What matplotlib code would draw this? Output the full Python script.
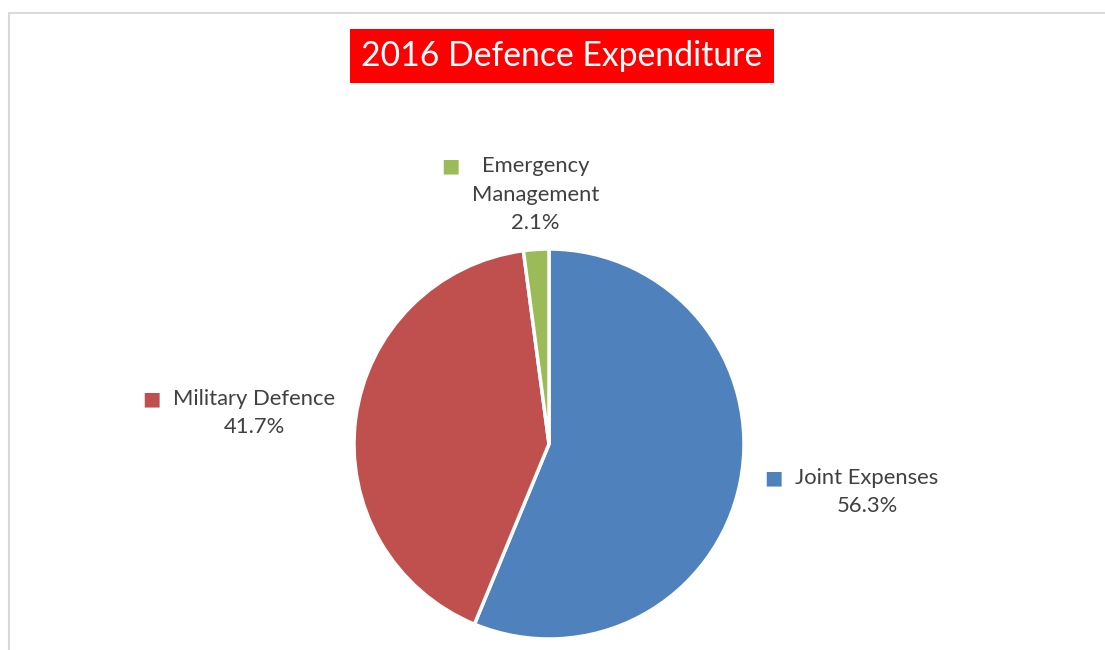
import matplotlib
matplotlib.use("Agg")
import matplotlib.pyplot as plt
from matplotlib.patches import Rectangle

# data
categories = ["Joint Expenses", "Military Defence", "Emergency\nManagement"]
shares = [56.3, 41.7, 2.1]
colours = ["#4F81BD", "#C0504D", "#9BBB59"]
title = "2016 Defence Expenditure"

plt.rcParams["font.family"] = ["Lato", "DejaVu Sans"]
txt_col = "#404040"

fig = plt.figure(figsize=(11.05, 6.5), dpi=100)
W, H = 1105, 650

# pie centre (549, 444) px, radius 195 px
ax = fig.add_axes([354 / W, 11 / H, 390 / W, 390 / H])
wedges, _ = ax.pie(shares, colors=colours, startangle=90, counterclock=False,
                   radius=1, wedgeprops=dict(edgecolor="white", linewidth=2.5))
ax.set_xlim(-1, 1)
ax.set_ylim(-1, 1)
ax.set_aspect("equal")
ax.axis("off")

# label placement in pie radius units
label_xy = [(1.631, -0.246), (-1.513, 0.159), (-0.069, 1.279)]

for cat, val, col, (lx, ly) in zip(categories, shares, colours, label_xy):
    t = ax.text(lx, ly, f"{cat}\n{val:.1f}%", ha="center", va="center",
                multialignment="center", fontsize=15.8, color=txt_col,
                linespacing=1.55)
    ax.annotate("■", xy=(0, 1), xycoords=t, xytext=(-9, -7.5),
                textcoords="offset points", ha="right", va="center",
                fontsize=14, color=col)

fig.text(562 / W, 1 - 56 / H, title, ha="center", va="center",
         fontsize=24.3, color="white",
         bbox=dict(boxstyle="square,pad=0.34", facecolor="#FF0000", edgecolor="none"))

# chart frame (only top and left visible in the crop)
fig.patches.append(Rectangle((8.5 / W, -0.5), 2, 0.5 + 1 - 12.5 / H,
                             transform=fig.transFigure, fill=False,
                             edgecolor="#D9D9D9", linewidth=1.5))

fig.savefig("out.png", dpi=100, facecolor="white")
